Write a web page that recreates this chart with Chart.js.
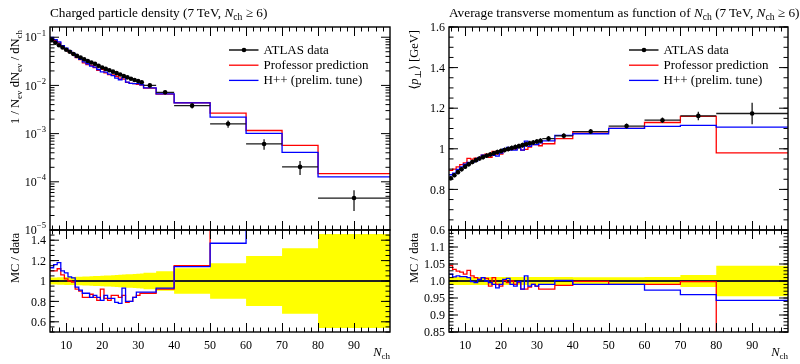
<!DOCTYPE html>
<html lang="en">
<head>
<meta charset="UTF-8">
<title>ATLAS 7 TeV, Nch &ge; 6</title>
<style>
  body { margin: 0; background: #ffffff; }
  #plots { position: relative; width: 800px; height: 364px; overflow: hidden; }
  #plots canvas { position: absolute; top: 0; }
</style>
</head>
<body>
<div id="plots">
  <canvas id="densMain" width="400" height="364" style="left:0"></canvas>
  <canvas id="densRatio" width="400" height="364" style="left:0"></canvas>
  <canvas id="ptMain" width="400" height="364" style="left:400px"></canvas>
  <canvas id="ptRatio" width="400" height="364" style="left:400px"></canvas>
</div>

<script src="https://cdn.jsdelivr.net/npm/chart.js@4"></script>
<script>
    // bin edges in N_ch (same binning for both observables)
    const edges = [5.5, 6.5, 7.5, 8.5, 9.5, 10.5, 11.5, 12.5, 13.5, 14.5, 15.5, 16.5, 17.5, 18.5,
        19.5, 20.5, 21.5, 22.5, 23.5, 24.5, 25.5, 26.5, 27.5, 28.5, 29.5, 30.5, 31.5,
        35, 40, 50, 60, 70, 80, 100];

    // 1/Nev dNev/dNch : ATLAS data and relative uncertainty
    const densData = [0.088, 0.077, 0.068, 0.061, 0.055, 0.050, 0.045, 0.041, 0.038, 0.035,
        0.032, 0.030, 0.028, 0.0255, 0.0235, 0.0220, 0.0206, 0.0193, 0.0180, 0.0168,
        0.0157, 0.0147, 0.0138, 0.0130, 0.0123, 0.0116,
        0.0100, 0.0072, 0.0038, 0.0016, 0.00061, 0.000204, 0.000046];
    const densErr = [0.035, 0.035, 0.036, 0.037, 0.038, 0.039, 0.040, 0.041, 0.042, 0.044,
        0.045, 0.047, 0.048, 0.050, 0.052, 0.053, 0.055, 0.057, 0.059, 0.061,
        0.063, 0.065, 0.067, 0.069, 0.071, 0.073,
        0.08, 0.095, 0.125, 0.175, 0.245, 0.32, 0.46];
    // MC / data
    const densProf = [1.10, 1.10, 1.12, 1.06, 1.02, 1.00, 0.99, 0.92, 0.90, 0.84,
        0.84, 0.87, 0.84, 0.81, 0.92, 0.83, 0.81, 0.86, 0.86, 0.84,
        0.86, 0.79, 0.80, 0.84, 0.86, 0.88,
        0.88, 0.92, 1.15, 1.66, 1.90, 2.80, 3.20];
    const densHpp = [1.13, 1.16, 1.18, 1.10, 1.08, 1.04, 1.03, 0.94, 0.91, 0.88,
        0.88, 0.84, 0.86, 0.84, 0.81, 0.86, 0.83, 0.83, 0.79, 0.78,
        0.93, 0.80, 0.80, 0.84, 0.89, 0.89,
        0.89, 0.93, 1.14, 1.37, 1.66, 2.00, 2.75];

    // <pT> vs Nch [GeV]
    const ptData = [0.855, 0.870, 0.885, 0.899, 0.912, 0.924, 0.935, 0.944, 0.952, 0.959,
        0.966, 0.972, 0.978, 0.984, 0.989, 0.994, 0.999, 1.004, 1.009, 1.013,
        1.018, 1.022, 1.027, 1.031, 1.036, 1.040,
        1.050, 1.064, 1.085, 1.112, 1.141, 1.162, 1.174];
    const ptErr = [0.012, 0.012, 0.012, 0.012, 0.012, 0.012, 0.012, 0.012, 0.012, 0.012,
        0.012, 0.012, 0.012, 0.012, 0.012, 0.012, 0.012, 0.012, 0.012, 0.012,
        0.012, 0.012, 0.012, 0.012, 0.012, 0.012,
        0.012, 0.012, 0.011, 0.011, 0.012, 0.018, 0.045];
    const ptProf = [1.045, 1.034, 1.029, 1.026, 1.020, 1.031, 1.015, 1.010, 1.005, 1.010,
        1.008, 0.985, 1.010, 0.990, 0.985, 1.002, 0.995, 1.000, 0.990, 0.995,
        0.976, 0.976, 0.982, 0.990, 0.985, 0.976,
        0.976, 0.987, 0.999, 0.990, 0.990, 0.998, 0.835];
    const ptHpp = [1.020, 1.012, 1.015, 1.013, 1.013, 1.010, 0.998, 0.995, 1.005, 1.010,
        1.000, 0.995, 0.990, 0.980, 0.990, 1.005, 1.008, 0.990, 0.985, 0.998,
        0.976, 1.015, 0.985, 0.990, 0.985, 0.990,
        0.990, 1.002, 0.990, 0.990, 0.973, 0.960, 0.943];

    const xMajor = [10, 20, 30, 40, 50, 60, 70, 80, 90];
    const densTicks = [1e-5, 1e-4, 1e-3, 1e-2, 1e-1];
    const densRatioTicks = ['0.6', '0.8', '1', '1.2', '1.4'];
    const ptTicks = ['0.6', '0.8', '1', '1.2', '1.4', '1.6'];
    const ptRatioTicks = ['0.85', '0.9', '0.95', '1.0', '1.05', '1.1'];

    const FONT = '"Liberation Serif", "DejaVu Serif", serif';
    const RED = '#ff0000';
    const BLUE = '#0000ff';
    const YELLOW = '#ffff00';

    // helpers ---------------------------------------------------------------
    function hist(vals) {
        const pts = vals.map((v, i) => ({x: edges[i], y: v}));
        pts.push({x: edges[edges.length - 1], y: vals[vals.length - 1]});
        return pts;
    }

    function points(vals, rel) {
        return vals.map((v, i) => ({
            x: (edges[i] + edges[i + 1]) / 2, y: v,
            xlo: edges[i], xhi: edges[i + 1],
            ylo: v * (1 - rel[i]), yhi: v * (1 + rel[i])
        }));
    }

    function stepLine(data, color, order) {
        return {data, borderColor: color, borderWidth: 1.3, stepped: true, pointRadius: 0, fill: false, order, clip: 0};
    }

    function bandSets(rel) {
        return [
            {data: hist(rel.map(r => 1 + r)), borderWidth: 0, pointRadius: 0, stepped: true,
                fill: '+1', backgroundColor: YELLOW, order: 10, clip: 0},
            {data: hist(rel.map(r => 1 - r)), borderWidth: 0, pointRadius: 0, stepped: true,
                fill: false, order: 11, clip: 0},
            {data: [{x: 5.5, y: 1}, {x: 100, y: 1}], borderColor: '#222', borderWidth: 2,
                pointRadius: 0, fill: false, order: 5, clip: 0}
        ];
    }

    // text with italics, sub- and superscripts: parts = [[text, flags]], flags: i, b(sub), p(sup)
    function rich(ctx, parts, x, y, size, align) {
        const fonts = parts.map(p => {
            const f = p[1] || '';
            const s = (f.includes('b') || f.includes('p')) ? size * 0.72 : size;
            return (f.includes('i') ? 'italic ' : '') + s.toFixed(1) + 'px ' + FONT;
        });
        let w = 0;
        parts.forEach((p, i) => { ctx.font = fonts[i]; w += ctx.measureText(p[0]).width; });
        let cx = align === 'right' ? x - w : align === 'center' ? x - w / 2 : x;
        ctx.textAlign = 'left';
        parts.forEach((p, i) => {
            const f = p[1] || '';
            ctx.font = fonts[i];
            const dy = f.includes('b') ? size * 0.22 : f.includes('p') ? -size * 0.4 : 0;
            ctx.fillText(p[0], cx, y + dy);
            cx += ctx.measureText(p[0]).width;
        });
    }

    function rotated(ctx, parts, x, y, size) {
        ctx.save();
        ctx.translate(x, y);
        ctx.rotate(-Math.PI / 2);
        rich(ctx, parts, 0, 0, size, 'right');
        ctx.restore();
    }

    // error bars under the data markers
    const errorBars = {
        id: 'errorBars',
        beforeDatasetDraw(chart, args) {
            const ds = chart.data.datasets[args.index];
            if (!ds.bars) return;
            const {ctx, chartArea: a, scales: {x, y}} = chart;
            ctx.save();
            ctx.beginPath();
            ctx.rect(a.left, a.top, a.width, a.height);
            ctx.clip();
            ctx.strokeStyle = '#1a1a1a';
            ctx.lineWidth = 1.3;
            for (const b of ds.data) {
                const px = x.getPixelForValue(b.x);
                const py = y.getPixelForValue(b.y);
                ctx.beginPath();
                ctx.moveTo(x.getPixelForValue(b.xlo), py);
                ctx.lineTo(x.getPixelForValue(b.xhi), py);
                ctx.moveTo(px, y.getPixelForValue(b.ylo));
                ctx.lineTo(px, y.getPixelForValue(b.yhi));
                ctx.stroke();
            }
            ctx.restore();
        }
    };

    // frame with inward ticks on all four sides, tick labels and titles
    function framePlugin(cfg) {
        return {
            id: 'frame',
            afterDraw(chart) {
                const {ctx, chartArea: a, scales: {x, y}} = chart;
                ctx.save();
                ctx.strokeStyle = '#000';
                ctx.fillStyle = '#000';
                ctx.lineWidth = 1;
                ctx.beginPath();
                for (let v = 6; v < 100; v += 2) {
                    const len = v % 10 === 0 ? 9 : 4.5;
                    const px = Math.round(x.getPixelForValue(v)) + 0.5;
                    ctx.moveTo(px, a.top); ctx.lineTo(px, a.top + len);
                    ctx.moveTo(px, a.bottom); ctx.lineTo(px, a.bottom - len);
                }
                for (const t of cfg.yMinor) {
                    const py = y.getPixelForValue(t);
                    if (py < a.top - 0.5 || py > a.bottom + 0.5) continue;
                    ctx.moveTo(a.left, py); ctx.lineTo(a.left + 4.5, py);
                    ctx.moveTo(a.right, py); ctx.lineTo(a.right - 4.5, py);
                }
                for (const t of cfg.yMajor) {
                    const py = y.getPixelForValue(t);
                    ctx.moveTo(a.left, py); ctx.lineTo(a.left + 9, py);
                    ctx.moveTo(a.right, py); ctx.lineTo(a.right - 9, py);
                }
                ctx.stroke();
                ctx.lineWidth = 1.4;
                ctx.strokeRect(a.left, a.top, a.width, a.height);

                // y tick labels
                ctx.textBaseline = 'middle';
                cfg.yMajor.forEach((t, i) => {
                    const py = y.getPixelForValue(t) + 1;
                    if (cfg.log) {
                        rich(ctx, [['10', ''], ['\u2212' + Math.round(-Math.log10(t)), 'p']], a.left - 4, py, 12, 'right');
                    } else {
                        rich(ctx, [[cfg.yText[i], '']], a.left - 4, py, 12, 'right');
                    }
                });
                ctx.textBaseline = 'alphabetic';

                if (cfg.xLabels) {
                    for (const v of xMajor) {
                        rich(ctx, [[String(v), '']], x.getPixelForValue(v), a.bottom + 17, 12, 'center');
                    }
                    rich(ctx, [['N', 'i'], ['ch', 'b']], a.right, 356, 12.5, 'right');
                }
                if (cfg.title) {
                    rich(ctx, cfg.title, a.left, 17, 13.3, 'left');
                }
                rotated(ctx, cfg.yTitle, a.left - 31, a.top + 3, 12.5);

                if (cfg.legend) {
                    const rows = [['ATLAS data', '#222'], ['Professor prediction', RED], ['H++ (prelim. tune)', BLUE]];
                    rows.forEach((r, i) => {
                        const ly = 50 + i * 15.2;
                        ctx.strokeStyle = r[1];
                        ctx.lineWidth = i === 0 ? 1.6 : 1.3;
                        ctx.beginPath();
                        ctx.moveTo(229, ly); ctx.lineTo(258.5, ly);
                        ctx.stroke();
                        if (i === 0) {
                            ctx.beginPath();
                            ctx.arc(244, ly, 2.3, 0, Math.PI * 2);
                            ctx.fill();
                        }
                        rich(ctx, [[r[0], '']], 263.5, ly + 4, 13, 'left');
                    });
                }
                ctx.restore();
            }
        };
    }

    function makeChart(id, datasets, yScale, pad, cfg) {
        return new Chart(document.getElementById(id), {
            type: 'line',
            data: {datasets},
            options: {
                responsive: false,
                animation: false,
                events: [],
                layout: {padding: pad},
                scales: {
                    x: {type: 'linear', min: 5.5, max: 100, display: false},
                    y: Object.assign({display: false}, yScale)
                },
                plugins: {legend: {display: false}, tooltip: {enabled: false}}
            },
            plugins: [errorBars, framePlugin(cfg)]
        });
    }

    function minorLinear(lo, hi, step) {
        const out = [];
        for (let v = lo; v <= hi + 1e-9; v += step) out.push(+v.toFixed(4));
        return out;
    }

    const logMinor = [];
    for (let e = -5; e < 0; e++) for (let k = 2; k <= 9; k++) logMinor.push(k * Math.pow(10, e));

    const densMC = r => densData.map((d, i) => d * r[i]);
    const ptMC = r => ptData.map((d, i) => d * r[i]);

    const dataSet = (vals, rel) => ({
        data: points(vals, rel), bars: true, showLine: false, pointRadius: 2.3,
        pointBackgroundColor: '#000', pointBorderWidth: 0, order: 0, clip: 0
    });

    // charged particle density -------------------------------------------
    makeChart('densMain', [
        dataSet(densData, densErr),
        stepLine(hist(densMC(densHpp)), BLUE, 2),
        stepLine(hist(densMC(densProf)), RED, 3)
    ], {type: 'logarithmic', min: 1e-5, max: 0.163},
        {left: 50, right: 10, top: 27, bottom: 134},
        {log: true, yMajor: densTicks, yMinor: logMinor, legend: true,
            title: [['Charged particle density (7\u2009TeV, ', ''], ['N', 'i'], ['ch', 'b'], [' \u2265 6)', '']],
            yTitle: [['1 / N', ''], ['ev', 'b'], [' dN', ''], ['ev', 'b'], [' / dN', ''], ['ch', 'b']]});

    makeChart('densRatio', [
        stepLine(hist(densHpp), BLUE, 2),
        stepLine(hist(densProf), RED, 3),
        ...bandSets(densErr)
    ], {type: 'linear', min: 0.5, max: 1.5},
        {left: 50, right: 10, top: 230, bottom: 32},
        {yMajor: densRatioTicks.map(Number), yText: densRatioTicks, yMinor: minorLinear(0.5, 1.5, 0.05),
            xLabels: true, yTitle: [['MC / data', '']]});

    // average transverse momentum ------------------------------------------
    makeChart('ptMain', [
        dataSet(ptData, ptErr),
        stepLine(hist(ptMC(ptHpp)), BLUE, 2),
        stepLine(hist(ptMC(ptProf)), RED, 3)
    ], {type: 'linear', min: 0.6, max: 1.6},
        {left: 49, right: 12, top: 27, bottom: 134},
        {yMajor: ptTicks.map(Number), yText: ptTicks, yMinor: minorLinear(0.6, 1.6, 0.05), legend: true,
            title: [['Average transverse momentum as function of ', ''], ['N', 'i'], ['ch', 'b'],
                [' (7\u2009TeV, ', ''], ['N', 'i'], ['ch', 'b'], [' \u2265 6)', '']],
            yTitle: [['\u27e8', ''], ['p', 'i'], ['\u22a5', 'b'], ['\u27e9 [GeV]', '']]});

    makeChart('ptRatio', [
        stepLine(hist(ptHpp), BLUE, 2),
        stepLine(hist(ptProf), RED, 3),
        ...bandSets(ptErr)
    ], {type: 'linear', min: 0.85, max: 1.15},
        {left: 49, right: 12, top: 230, bottom: 32},
        {yMajor: ptRatioTicks.map(Number), yText: ptRatioTicks, yMinor: minorLinear(0.85, 1.15, 0.01),
            xLabels: true, yTitle: [['MC / data', '']]});
</script>
</body>
</html>
